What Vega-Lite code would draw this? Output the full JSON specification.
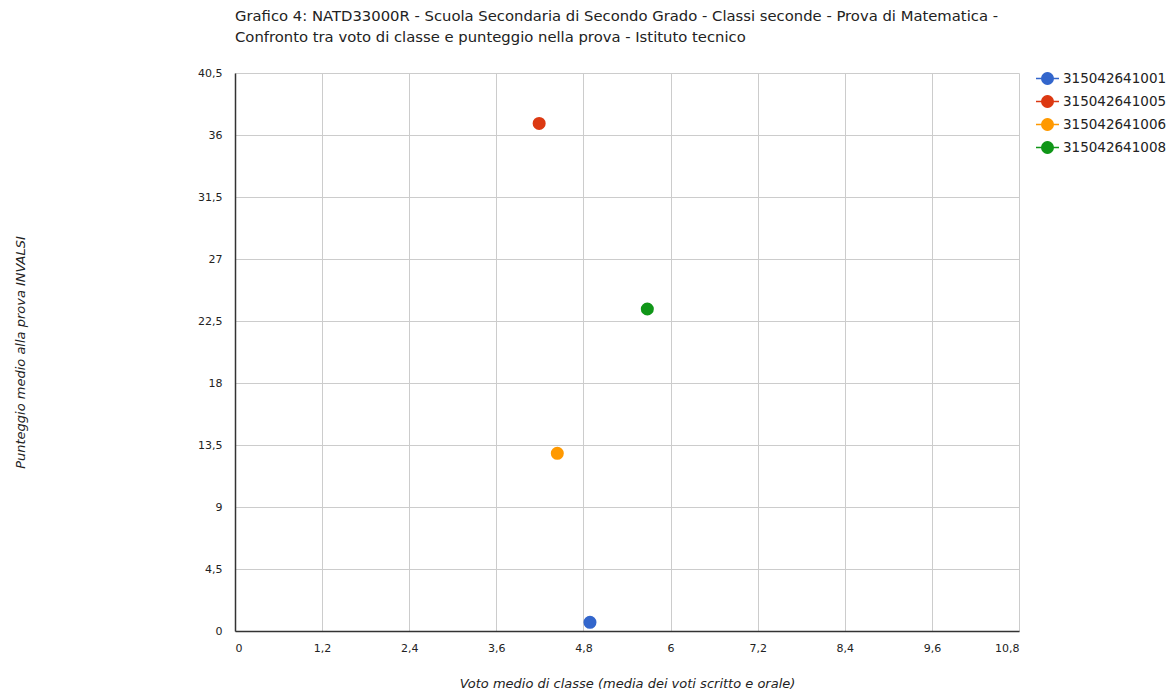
{
  "$schema": "https://vega.github.io/schema/vega-lite/v6.json",
  "autosize": "none",
  "width": 784,
  "height": 558,
  "padding": {"left": 235, "top": 73, "right": 152, "bottom": 66},
  "background": "white",
  "title": {
    "text": ["Grafico 4: NATD33000R - Scuola Secondaria di Secondo Grado - Classi seconde - Prova di Matematica -", "Confronto tra voto di classe e punteggio nella prova - Istituto tecnico"],
    "anchor": "start",
    "frame": "group",
    "font": "DejaVu Sans",
    "fontSize": 14.8,
    "fontWeight": "normal",
    "color": "#222222",
    "lineHeight": 21,
    "offset": 21
  },
  "data": {
    "values": [
      {"classe": "315042641001", "voto": 4.89, "punteggio": 0.63},
      {"classe": "315042641005", "voto": 4.19, "punteggio": 36.84},
      {"classe": "315042641006", "voto": 4.44, "punteggio": 12.9},
      {"classe": "315042641008", "voto": 5.68, "punteggio": 23.37}
    ]
  },
  "mark": {"type": "point", "filled": true, "opacity": 1, "size": 170},
  "encoding": {
    "x": {
      "field": "voto",
      "type": "quantitative",
      "scale": {"domain": [0, 10.8], "nice": false, "zero": false},
      "axis": {
        "title": "Voto medio di classe (media dei voti scritto e orale)",
        "values": [0, 1.2, 2.4, 3.6, 4.8, 6, 7.2, 8.4, 9.6, 10.8],
        "labelExpr": "replace(format(datum.value, '.1~f'), '.', ',')",
        "ticks": false,
        "labelPadding": 11,
        "titlePadding": 24,
        "titleFontStyle": "italic",
        "titleFontWeight": "normal"
      }
    },
    "y": {
      "field": "punteggio",
      "type": "quantitative",
      "scale": {"domain": [0, 40.5], "nice": false, "zero": false},
      "axis": {
        "title": "Punteggio medio alla prova INVALSI",
        "values": [0, 4.5, 9, 13.5, 18, 22.5, 27, 31.5, 36, 40.5],
        "labelExpr": "replace(format(datum.value, '.1~f'), '.', ',')",
        "ticks": false,
        "labelPadding": 13,
        "titlePadding": 170,
        "titleFontStyle": "italic",
        "titleFontWeight": "normal"
      }
    },
    "color": {
      "field": "classe",
      "type": "nominal",
      "scale": {
        "domain": ["315042641001", "315042641005", "315042641006", "315042641008"],
        "range": ["#3366cc", "#dc3912", "#ff9900", "#109618"]
      },
      "legend": {
        "title": null,
        "orient": "none",
        "legendX": 800,
        "legendY": -7,
        "symbolType": "M -1 0 L 1 0 M -0.5 0 A 0.5 0.5 0 1 1 0.5 0 A 0.5 0.5 0 1 1 -0.5 0 Z",
        "symbolSize": 529,
        "symbolStrokeWidth": 1.5,
        "symbolOpacity": 1,
        "rowPadding": 1,
        "labelOffset": 3,
        "labelFontSize": 13.5,
        "labelFont": "DejaVu Sans",
        "labelColor": "#222222",
        "encode": {
          "symbols": {
            "update": {
              "stroke": {"scale": "color", "field": "value"},
              "fill": {"scale": "color", "field": "value"}
            }
          }
        }
      }
    }
  },
  "config": {
    "font": "DejaVu Sans",
    "view": {"stroke": null},
    "axis": {
      "labelFont": "DejaVu Sans",
      "labelFontSize": 11,
      "labelColor": "#222222",
      "titleFont": "DejaVu Sans",
      "titleFontSize": 13,
      "titleColor": "#222222",
      "gridColor": "#cccccc",
      "gridOpacity": 1,
      "gridWidth": 1,
      "domainColor": "#333333",
      "domainWidth": 1.5
    }
  }
}
